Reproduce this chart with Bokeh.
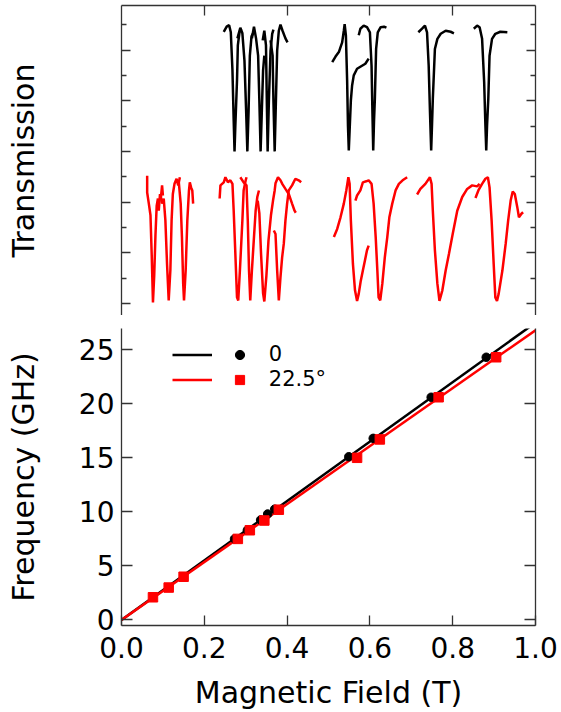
from bokeh.plotting import figure
from bokeh.models import (Range1d, LinearAxis, FixedTicker, Legend, LegendItem,
                          NumeralTickFormatter, CustomJSTickFormatter)
from bokeh.layouts import column
from bokeh.embed import file_html
from bokeh.resources import INLINE

# ---------------- data: resonance positions ----------------
field_0 = [0.273, 0.304, 0.336, 0.353, 0.370, 0.549, 0.608, 0.748, 0.881]
freq_0 = [7.5, 8.3, 9.25, 9.8, 10.25, 15.1, 16.8, 20.6, 24.3]
field_22 = [0.076, 0.114, 0.150, 0.281, 0.310, 0.345, 0.380, 0.569, 0.624, 0.766, 0.905]
freq_22 = [2.1, 3.0, 4.0, 7.5, 8.3, 9.2, 10.2, 15.0, 16.7, 20.6, 24.3]
fit_field = [0.0, 1.0]
fit_freq_0 = [0.0, 27.5]
fit_freq_22 = [0.0, 26.8]

# ---------------- data: transmission traces (field in T, transmission a.u.) ----------------
black_field = [
    [0.247, 0.254, 0.260, 0.264, 0.268, 0.271, 0.273, 0.275, 0.279, 0.281, 0.285, 0.289],
    [0.280, 0.287, 0.292, 0.297, 0.301, 0.304, 0.307, 0.310, 0.314, 0.321],
    [0.315, 0.320, 0.325, 0.330, 0.333, 0.336, 0.339, 0.342, 0.345],
    [0.341, 0.345, 0.349, 0.351, 0.353, 0.356, 0.360, 0.364, 0.367],
    [0.360, 0.365, 0.367, 0.370, 0.373, 0.376, 0.380, 0.384, 0.389, 0.396, 0.401],
    [0.509, 0.517, 0.525, 0.533, 0.537, 0.539, 0.542, 0.545, 0.547, 0.549, 0.551, 0.554,
     0.557, 0.561, 0.569, 0.581, 0.589, 0.597],
    [0.573, 0.577, 0.585, 0.593, 0.600, 0.604, 0.606, 0.608, 0.610, 0.612, 0.615, 0.619,
     0.626, 0.634, 0.640],
    [0.717, 0.726, 0.733, 0.738, 0.742, 0.745, 0.748, 0.750, 0.752, 0.757, 0.763, 0.771,
     0.783, 0.795, 0.803],
    [0.851, 0.859, 0.865, 0.871, 0.876, 0.879, 0.881, 0.883, 0.886, 0.889, 0.895, 0.903,
     0.915, 0.932],
]
black_trans = [
    [5.36, 5.46, 5.49, 5.35, 4.60, 3.61, 3.00, 3.51, 4.40, 5.09, 5.35, 5.42],
    [5.23, 5.44, 5.33, 4.79, 3.81, 3.00, 3.81, 4.89, 5.27, 5.38],
    [5.23, 5.46, 5.23, 4.89, 4.00, 3.00, 3.81, 4.60, 4.89],
    [5.19, 5.38, 5.09, 4.00, 3.00, 4.00, 4.99, 5.32, 5.40],
    [5.19, 4.89, 4.00, 3.00, 4.00, 4.99, 5.38, 5.50, 5.38, 5.23, 5.15],
    [4.76, 4.87, 4.96, 5.15, 5.38, 5.51, 5.29, 4.40, 3.51, 3.02, 3.41, 4.00,
     4.30, 4.50, 4.63, 4.69, 4.73, 4.83],
    [5.29, 5.42, 5.48, 5.45, 5.35, 4.69, 3.81, 3.02, 3.61, 4.04, 5.02, 5.35,
     5.45, 5.46, 5.44],
    [5.35, 5.42, 5.48, 5.35, 4.69, 3.81, 3.02, 3.51, 4.04, 5.02, 5.22, 5.32,
     5.38, 5.36, 5.33],
    [5.42, 5.48, 5.45, 5.22, 4.37, 3.51, 3.02, 3.51, 4.04, 4.89, 5.22, 5.32,
     5.36, 5.35],
]
red_field = [
    [0.062, 0.062, 0.066, 0.070, 0.073, 0.076, 0.079, 0.082, 0.085, 0.088, 0.090, 0.093,
     0.095, 0.098, 0.100],
    [0.094, 0.098, 0.102, 0.106, 0.110, 0.114, 0.118, 0.121, 0.124, 0.128, 0.133, 0.137, 0.141],
    [0.138, 0.143, 0.146, 0.149, 0.151, 0.155, 0.159, 0.163, 0.165, 0.168, 0.171, 0.173],
    [0.237, 0.239, 0.247, 0.251, 0.257, 0.263, 0.268, 0.271, 0.275, 0.279, 0.282, 0.286,
     0.292, 0.295, 0.300, 0.302],
    [0.287, 0.295, 0.302, 0.305, 0.308, 0.311, 0.315, 0.320, 0.324, 0.328, 0.332],
    [0.329, 0.333, 0.337, 0.342, 0.345, 0.350, 0.355, 0.361, 0.366, 0.370, 0.372, 0.378,
     0.384, 0.389, 0.396, 0.404, 0.412, 0.418, 0.421],
    [0.368, 0.372, 0.376, 0.380, 0.384, 0.388, 0.392, 0.396, 0.400, 0.404, 0.412, 0.420,
     0.428, 0.434],
    [0.513, 0.521, 0.529, 0.537, 0.543, 0.548, 0.551, 0.554, 0.559, 0.564, 0.569, 0.573,
     0.578, 0.583, 0.588, 0.593, 0.597],
    [0.565, 0.569, 0.577, 0.583, 0.591, 0.597, 0.604, 0.609, 0.614, 0.618, 0.621, 0.625,
     0.630, 0.636, 0.642, 0.647, 0.654, 0.662, 0.670, 0.679, 0.690],
    [0.714, 0.722, 0.734, 0.745, 0.749, 0.752, 0.757, 0.763, 0.768, 0.775, 0.783, 0.791,
     0.800, 0.811, 0.823, 0.835, 0.847, 0.859, 0.865],
    [0.855, 0.862, 0.871, 0.879, 0.885, 0.889, 0.894, 0.899, 0.903, 0.907, 0.911, 0.920,
     0.928, 0.934, 0.940, 0.945, 0.950, 0.956, 0.960, 0.966, 0.970],
]
red_trans = [
    [2.52, 2.19, 1.97, 1.74, 0.95, 0.02, 0.55, 1.34, 1.93, 2.07, 1.83, 2.16, 2.07, 2.33, 2.13],
    [2.13, 1.97, 2.07, 1.64, 0.78, 0.06, 0.65, 1.64, 2.16, 2.36, 2.46, 2.33, 2.49],
    [2.43, 1.97, 1.31, 0.39, 0.06, 0.65, 1.64, 2.23, 2.39, 2.29, 2.23, 1.97],
    [2.07, 2.33, 2.39, 2.49, 2.39, 2.43, 2.36, 1.83, 0.98, 0.12, 0.06, 0.65,
     1.64, 2.23, 2.43, 2.49],
    [2.49, 2.39, 2.33, 1.64, 0.65, 0.06, 0.65, 1.31, 1.83, 2.10, 2.23],
    [2.03, 1.78, 0.99, 0.20, 0.04, 0.55, 1.24, 1.74, 2.03, 2.23, 2.37, 2.49,
     2.43, 2.35, 2.26, 2.16, 1.97, 1.83, 1.79],
    [1.44, 1.37, 0.65, 0.06, 0.52, 0.91, 1.18, 1.64, 1.97, 2.23, 2.33, 2.46, 2.43, 2.39],
    [1.31, 1.47, 1.70, 1.97, 2.23, 2.49, 2.36, 1.64, 0.78, 0.26, 0.05, 0.19,
     0.45, 0.65, 0.85, 1.05, 1.14],
    [2.03, 2.13, 2.23, 2.39, 2.41, 2.43, 2.36, 1.97, 1.31, 0.65, 0.12, 0.06,
     0.39, 0.91, 1.31, 1.70, 1.97, 2.23, 2.36, 2.43, 2.49],
    [2.15, 2.26, 2.36, 2.49, 2.36, 1.83, 1.05, 0.39, 0.05, 0.26, 0.65, 0.98,
     1.37, 1.83, 2.10, 2.26, 2.33, 2.31, 2.36],
    [2.08, 2.23, 2.36, 2.46, 2.49, 2.29, 1.64, 0.78, 0.12, 0.05, 0.19, 0.65,
     1.18, 1.64, 2.03, 2.21, 2.16, 1.90, 1.70, 1.77, 1.80],
]

# ticks
field_ticks = [0.0, 0.2, 0.4, 0.6, 0.8, 1.0]
top_field_ticks = [0.2, 0.4, 0.6, 0.8]
trans_major = [0, 1, 2, 3, 4, 5]
trans_minor = [0.5, 1.5, 2.5, 3.5, 4.5, 5.5]
freq_ticks = [0, 5, 10, 15, 20, 25]
legend_labels = ["0", "22.5\u00b0"]

FONT = "DejaVu Sans"
AX = "#333333"
RED = "#ff0000"


def axis(ticker, tick_in, minor_in=0, show_labels=False, label_size="28px",
         label_standoff=0, axis_label=None, axis_label_standoff=0, formatter=None):
    kw = dict(ticker=ticker, major_tick_in=tick_in, major_tick_out=0,
              minor_tick_in=minor_in, minor_tick_out=0,
              axis_line_color=AX, axis_line_width=1.3,
              major_tick_line_color=AX, major_tick_line_width=1.3,
              minor_tick_line_color=AX, minor_tick_line_width=1.3,
              major_label_standoff=label_standoff,
              major_label_text_font=FONT,
              major_label_text_color="black")
    if show_labels:
        kw["major_label_text_font_size"] = label_size
        if formatter is not None:
            kw["formatter"] = formatter
    else:
        kw["major_label_text_font_size"] = "1px"
        kw["formatter"] = CustomJSTickFormatter(code="return '';")
    if axis_label is not None:
        kw.update(axis_label=axis_label, axis_label_standoff=axis_label_standoff,
                  axis_label_text_font=FONT, axis_label_text_font_size="30px",
                  axis_label_text_font_style="normal", axis_label_text_color="black")
    return LinearAxis(**kw)


# ---------------- top panel: transmission ----------------
top = figure(frame_width=414, frame_height=310, x_range=Range1d(0, 1),
             y_range=Range1d(-0.237, 5.878), x_axis_type=None, y_axis_type=None,
             toolbar_location=None, output_backend="svg",
             min_border_left=121, min_border_right=26, min_border_top=5, min_border_bottom=0)
top.outline_line_color = None

top.add_layout(axis(FixedTicker(ticks=trans_major, minor_ticks=trans_minor), 9, 5,
                    axis_label="Transmission", axis_label_standoff=81), "left")
top.add_layout(axis(FixedTicker(ticks=trans_major, minor_ticks=trans_minor), 9, 5), "right")
top.add_layout(axis(FixedTicker(ticks=top_field_ticks), 10), "above")

top.multi_line(xs=black_field, ys=black_trans, line_color="black", line_width=2.5)
top.multi_line(xs=red_field, ys=red_trans, line_color=RED, line_width=2.5)

# ---------------- bottom panel: frequency vs field ----------------
bot = figure(frame_width=414, frame_height=297, x_range=Range1d(0, 1),
             y_range=Range1d(-0.51, 26.96), x_axis_type=None, y_axis_type=None,
             toolbar_location=None, output_backend="svg",
             min_border_left=121, min_border_right=26, min_border_top=13, min_border_bottom=87)
bot.outline_line_color = None

bot.add_layout(axis(FixedTicker(ticks=freq_ticks), 11, show_labels=True, label_standoff=7,
                    axis_label="Frequency (GHz)", axis_label_standoff=35), "left")
bot.add_layout(axis(FixedTicker(ticks=freq_ticks), 11), "right")
bot.add_layout(axis(FixedTicker(ticks=field_ticks), 10, show_labels=True, label_standoff=11,
                    axis_label="Magnetic Field (T)", axis_label_standoff=14,
                    formatter=NumeralTickFormatter(format="0.0")), "below")

l0 = bot.line(fit_field, fit_freq_0, line_color="black", line_width=2.5)
l22 = bot.line(fit_field, fit_freq_22, line_color=RED, line_width=2.5)
s0 = bot.scatter(field_0, freq_0, marker="circle", size=8.5, fill_color="black", line_color="black")
s22 = bot.scatter(field_22, freq_22, marker="square", size=9.5, fill_color=RED, line_color=RED)

common = dict(orientation="vertical", glyph_height=25, label_height=25, padding=0,
              spacing=0, margin=0, border_line_alpha=0, background_fill_alpha=0,
              label_text_font=FONT, label_text_font_size="21px", label_text_color="black")
leg_lines = Legend(items=[LegendItem(label=" ", renderers=[l0]),
                          LegendItem(label=" ", renderers=[l22])],
                   location=(50.7, 233.5), glyph_width=40, label_standoff=0, label_width=1, **common)
leg_marks = Legend(items=[LegendItem(label=legend_labels[0], renderers=[s0]),
                          LegendItem(label=legend_labels[1], renderers=[s22])],
                   location=(106.8, 233.5), glyph_width=23, label_standoff=18, **common)
bot.add_layout(leg_lines, "center")
bot.add_layout(leg_marks, "center")

layout = column(top, bot, spacing=0)
open("out.html", "w").write(file_html(layout, INLINE))
